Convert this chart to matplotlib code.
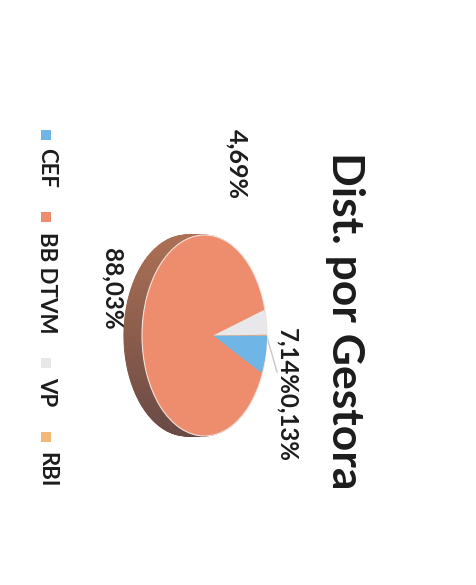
import matplotlib
matplotlib.use('Agg')
import matplotlib.pyplot as plt
import numpy as np

plt.rcParams['font.family'] = ['Lato', 'DejaVu Sans']

title = 'Dist. por Gestora'
gestoras = ['CEF', 'BB DTVM', 'VP', 'RBI']
valores = [7.14, 88.03, 4.69, 0.13]
cores = ['#6fb5e6', '#ee8d6e', '#e8e8ea', '#f3b878']

W, H = 477, 585
fig = plt.figure(figsize=(W / 100, H / 100), dpi=100)

# the scan is turned 90 degrees, so everything is placed in pixel coords
bg = fig.add_axes([0, 0, 1, 1])
bg.set_xlim(0, W)
bg.set_ylim(H, 0)
bg.axis('off')

# pie axes, stretched to an ellipse
pie_x0, pie_x1, pie_y0, pie_y1 = 142, 267, 235, 436
ax = fig.add_axes([pie_x0 / W, 1 - pie_y1 / H, (pie_x1 - pie_x0) / W, (pie_y1 - pie_y0) / H])

# side wall, many thin slices so the brown can go from light (top) to dark (bottom)
n = 90
top_col = np.array([0.68, 0.44, 0.33])
low_col = np.array([0.41, 0.29, 0.27])
mid = (np.arange(n) + 0.5) / n * 2 * np.pi
t = (np.sin(mid) + 1) / 2
side_cols = [tuple(low_col + (top_col - low_col) * k) for k in t]
for off in np.linspace(-0.29, -0.01, 30):
    parts, _ = ax.pie(np.ones(n), colors=side_cols, center=(off, 0), radius=1)
    for p in parts:
        p.set_edgecolor(p.get_facecolor())
        p.set_linewidth(0.6)

# front face, apex sits off centre because of the perspective
ax.pie([sum(valores)], colors=[cores[1]], center=(0, 0), radius=1,
       wedgeprops={'edgecolor': '#f3e4dc', 'linewidth': 0.8})
wedges, _ = ax.pie(valores, colors=cores, center=(0.14, 0), radius=0.86,
                   startangle=0, counterclock=False)
wedges[1].set_visible(False)

ax.set_aspect('auto')
ax.set_xlim(-1, 1)
ax.set_ylim(-1, 1)
for w in ax.patches:
    w.set_clip_on(False)

# labels
txt = dict(rotation=270, ha='center', va='center', color='#1c1c1c')
bg.text(345, 321, title, fontsize=32, fontweight='bold', **txt)
bg.text(237, 164, '4,69%', fontsize=18, fontweight='bold', **txt)
bg.text(112, 289, '88,03%', fontsize=17.5, fontweight='bold', **txt)
bg.text(287, 395, '7,14%0,13%', fontsize=17.3, fontweight='bold', **txt)
bg.plot([267, 277], [337, 372], color='#c8c8c8', lw=1)

# legend
leg_y = [135, 217, 363, 437]
txt_y = [168, 283, 392, 470]
for nome, cor, my, ty in zip(gestoras, cores, leg_y, txt_y):
    bg.scatter([46], [my], marker='s', s=42, color=cor, linewidths=0)
    bg.text(47, ty, nome, fontsize=16, fontweight='bold', **txt)

fig.savefig('out.png', dpi=100)
